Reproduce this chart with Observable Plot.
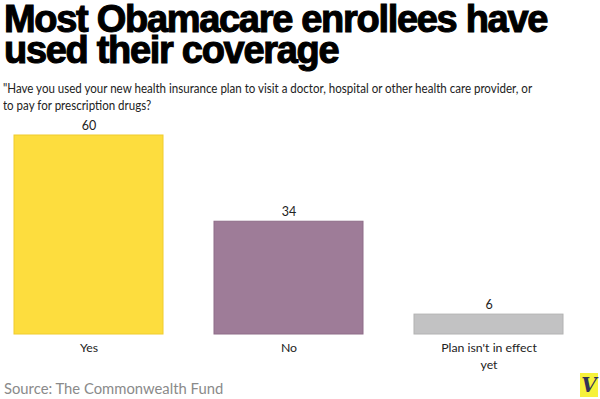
<!DOCTYPE html>
<html><head><meta charset="utf-8">
<script src="https://cdn.jsdelivr.net/npm/d3@7"></script>
<script src="https://cdn.jsdelivr.net/npm/@observablehq/plot@0.6"></script>
<style>
html,body{margin:0;padding:0;background:#fff;width:600px;height:399px;overflow:hidden;}
#wrap{position:relative;width:600px;height:399px;}
#title{position:absolute;left:4px;top:4px;font-family:"Liberation Sans",Arial,sans-serif;font-weight:bold;font-size:38px;line-height:31px;letter-spacing:-1.3px;color:#000;-webkit-text-stroke:1.1px #000;white-space:nowrap;}
#sub{position:absolute;left:3px;top:80px;font-family:Lato,"Liberation Sans",sans-serif;font-size:12.7px;line-height:17px;color:#222;white-space:nowrap;transform:scaleX(0.91);transform-origin:0 0;}
#chart{position:absolute;left:0;top:112px;}
#src{position:absolute;left:4px;top:379px;font-family:Lato,"Liberation Sans",sans-serif;font-size:14.8px;line-height:19px;color:#8a8a8a;white-space:nowrap;}
#logo{position:absolute;left:580px;top:373px;width:18px;height:24px;background:#f6f23a;font-family:"DejaVu Serif",serif;font-style:italic;font-weight:bold;font-size:20px;line-height:24px;text-align:center;color:#333355;}
</style></head>
<body><div id="wrap">
<div id="chart"></div>
<div id="title">Most Obamacare enrollees have<br>used their coverage</div>
<div id="sub">"Have you used your new health insurance plan to visit a doctor, hospital or other health care provider, or<br>to pay for prescription drugs?</div>
<div id="src">Source: The Commonwealth Fund</div>
<div id="logo">V</div>
</div>
<script>
const categories = ["Yes", "No", "Plan isn't in effect yet"];
const categoryLabels = ["Yes", "No", "Plan isn't in effect\nyet"];
const values = [60, 34, 6];
const fills = ["#fddd3e", "#9e7c98", "#c2c2c3"];
const strokes = ["#f0cc2c", "#8e6c88", "#b2b2b2"];

const data = categories.map((c, i) => ({category: c, value: values[i], fill: fills[i], stroke: strokes[i]}));
const labelMap = new Map(categories.map((c, i) => [c, categoryLabels[i]]));

const chart = Plot.plot({
  width: 600,
  height: 264,
  marginLeft: 14,
  marginRight: 37,
  marginTop: 23,
  marginBottom: 42,
  style: {fontFamily: "Lato, Liberation Sans, sans-serif", fontSize: "12px", color: "#222", background: "transparent"},
  x: {domain: categories, paddingInner: 0.255, paddingOuter: 0, axis: null},
  y: {domain: [0, 60], axis: null},
  marks: [
    Plot.barY(data, {x: "category", y: "value", fill: "fill", stroke: "stroke", strokeWidth: 1}),
    Plot.axisX({tickSize: 0, tickPadding: 5, label: null, tickFormat: d => labelMap.get(d), lineHeight: 1.4, fontSize: 12.3, fill: "#222"}),
    Plot.text(data, {x: "category", y: "value", text: d => String(d.value), dy: -6, lineAnchor: "bottom", fill: "#222", fontSize: 12.5})
  ]
});
document.getElementById("chart").appendChild(chart);
</script>
</body></html>
